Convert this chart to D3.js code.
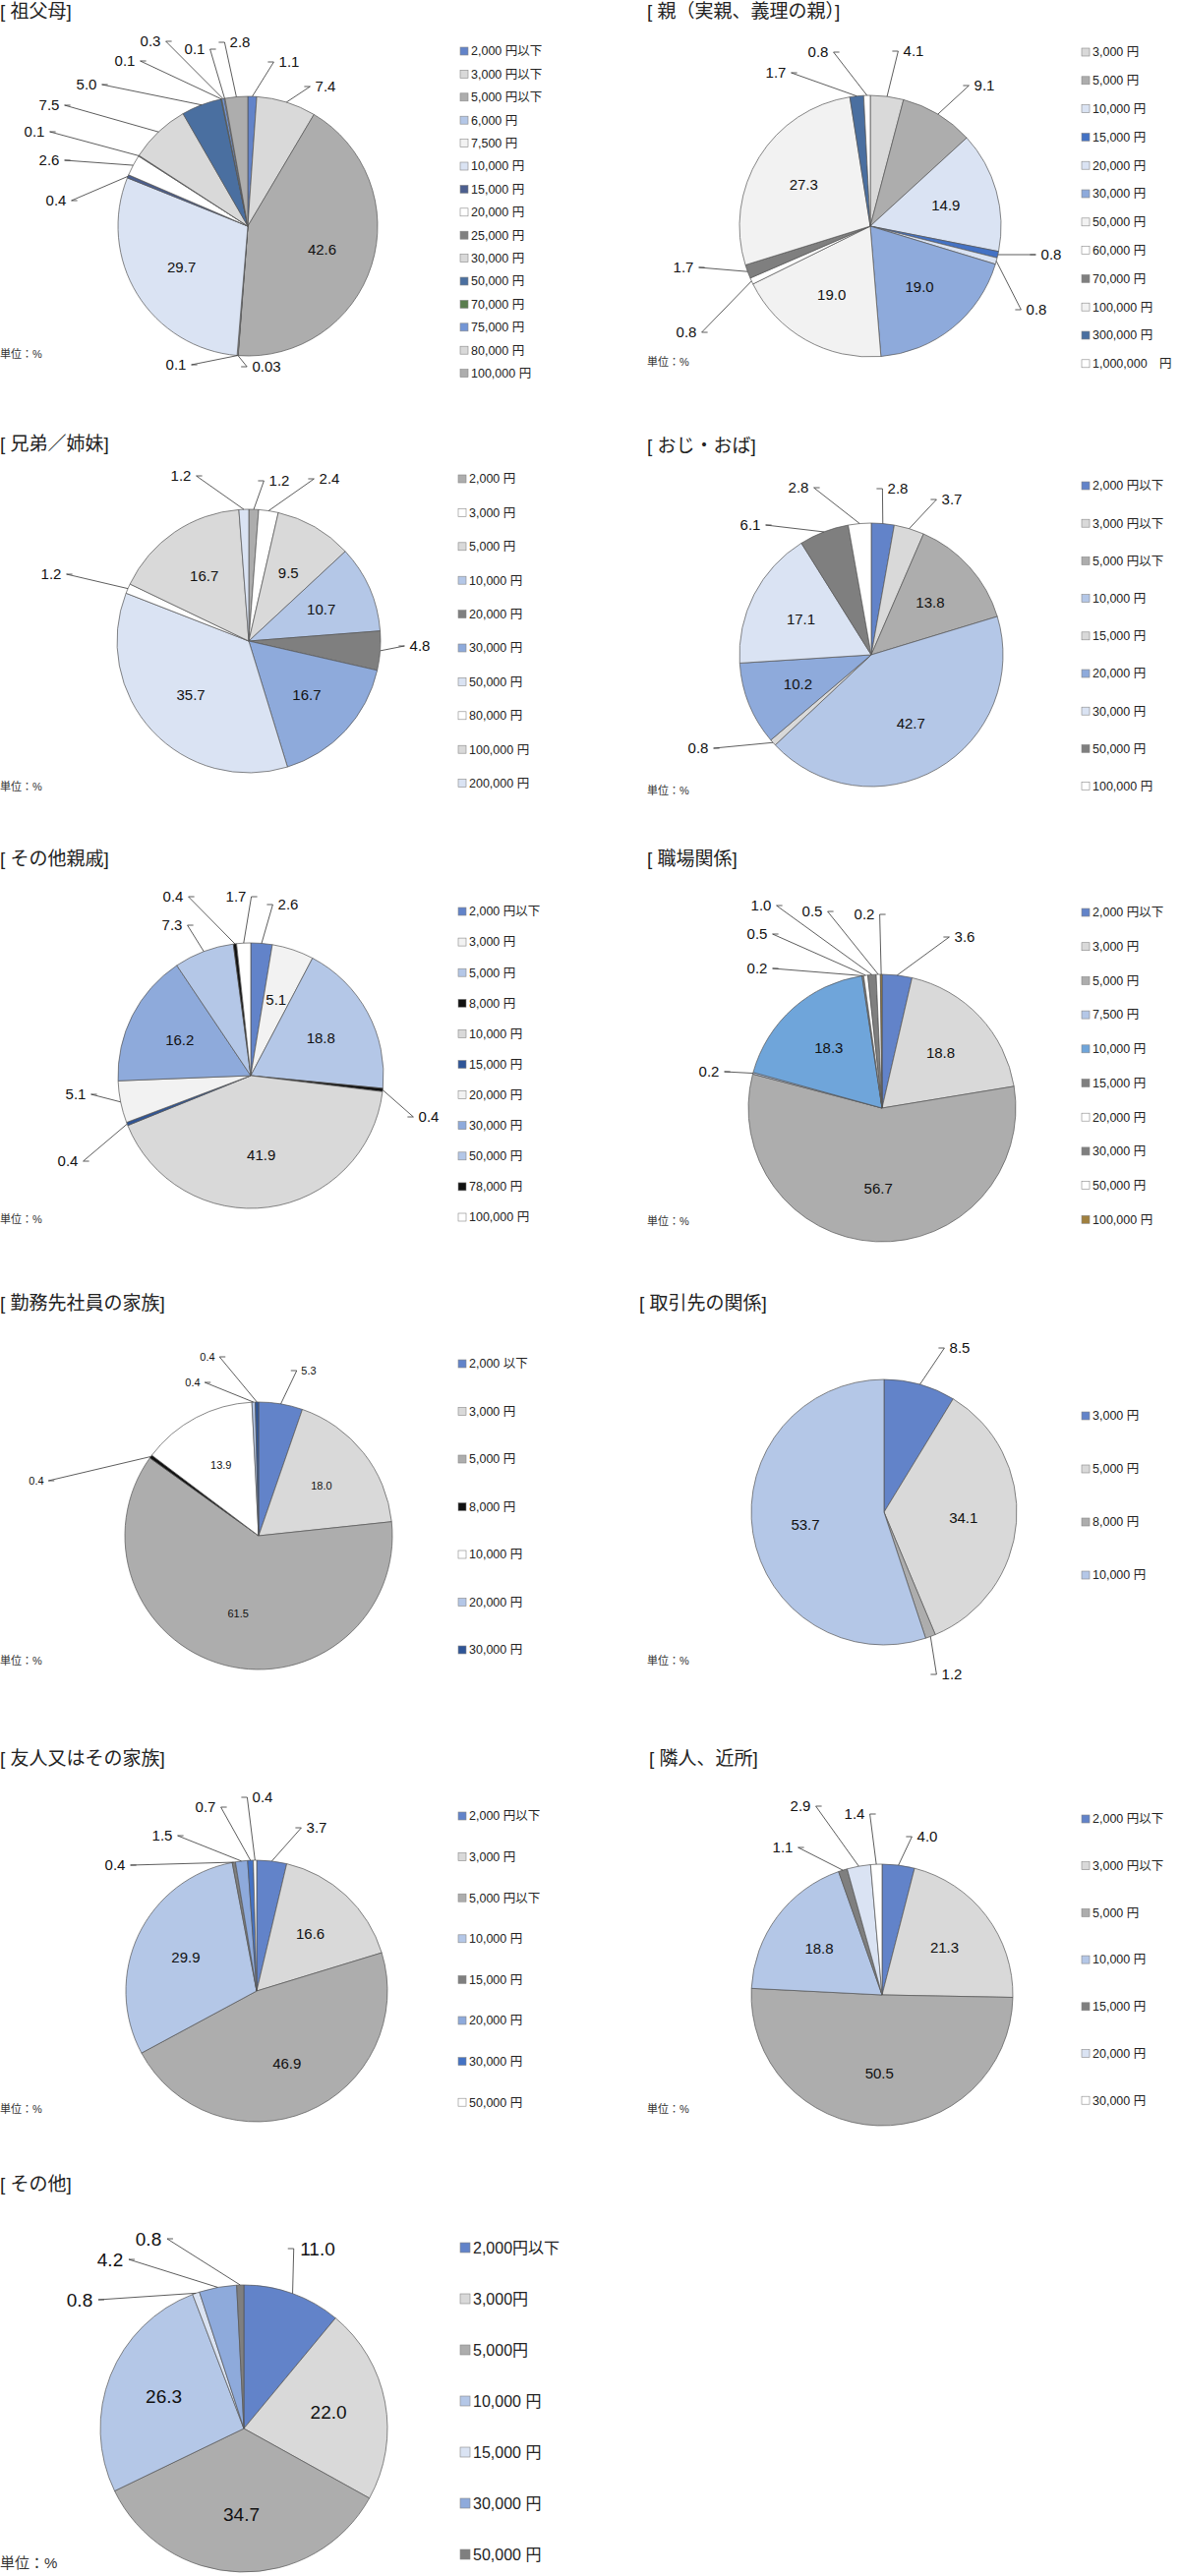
<!DOCTYPE html>
<html><head><meta charset="utf-8">
<script src="https://cdn.jsdelivr.net/npm/d3@7"></script>
<style>
body{margin:0;background:#fff;font-family:"Liberation Sans","Noto Sans CJK JP",sans-serif;}
</style></head>
<body><svg id="chart" width="1201" height="2620"></svg>
<script>
// colours used in the charts
var C = {
  blue:"#6283c9", lgray:"#d9d9d9", mgray:"#adadad", lblue:"#b4c7e7", vlight:"#f2f2f2",
  pale:"#dae3f3", navy:"#4c5f8f", white:"#ffffff", dgray:"#7f7f7f", steel:"#4a6fa0",
  green:"#5a7d4e", mblue:"#8eaadb", sky:"#6fa5da", black:"#111111", dblue:"#2f5597",
  brown:"#a0803f", blue2:"#4472c4"
}

// ---- data ----
var cat1 = ["2,000 円以下","3,000 円以下","5,000 円以下","6,000 円","7,500 円","10,000 円","15,000 円","20,000 円","25,000 円","30,000 円","50,000 円","70,000 円","75,000 円","80,000 円","100,000 円"]
var val1 = [1.1,7.4,42.6,0.03,0.1,29.7,0.4,2.6,0.1,7.5,5.0,0.1,0.3,0.1,2.8]
var col1 = [C.blue,C.lgray,C.mgray,C.lblue,C.vlight,C.pale,C.navy,C.white,C.dgray,C.lgray,C.steel,C.green,"#7396d6",C.lgray,C.mgray]

var cat2 = ["3,000 円","5,000 円","10,000 円","15,000 円","20,000 円","30,000 円","50,000 円","60,000 円","70,000 円","100,000 円","300,000 円","1,000,000　円"]
var val2 = [4.1,9.1,14.9,0.8,0.8,19.0,19.0,0.8,1.7,27.3,1.7,0.8]
var col2 = [C.lgray,C.mgray,C.pale,C.blue2,C.pale,C.mblue,C.vlight,C.white,C.dgray,C.vlight,C.steel,C.white]

var cat3 = ["2,000 円","3,000 円","5,000 円","10,000 円","20,000 円","30,000 円","50,000 円","80,000 円","100,000 円","200,000 円"]
var val3 = [1.2,2.4,9.5,10.7,4.8,16.7,35.7,1.2,16.7,1.2]
var col3 = [C.mgray,C.white,C.lgray,C.lblue,C.dgray,C.mblue,C.pale,C.white,C.lgray,C.pale]

var cat4 = ["2,000 円以下","3,000 円以下","5,000 円以下","10,000 円","15,000 円","20,000 円","30,000 円","50,000 円","100,000 円"]
var val4 = [2.8,3.7,13.8,42.7,0.8,10.2,17.1,6.1,2.8]
var col4 = [C.blue,C.lgray,C.mgray,C.lblue,C.lgray,C.mblue,C.pale,C.dgray,C.white]

var cat5 = ["2,000 円以下","3,000 円","5,000 円","8,000 円","10,000 円","15,000 円","20,000 円","30,000 円","50,000 円","78,000 円","100,000 円"]
var val5 = [2.6,5.1,18.8,0.4,41.9,0.4,5.1,16.2,7.3,0.4,1.7]
var col5 = [C.blue,C.vlight,C.lblue,C.black,C.lgray,C.dblue,C.vlight,C.mblue,C.lblue,C.black,C.white]

var cat6 = ["2,000 円以下","3,000 円","5,000 円","7,500 円","10,000 円","15,000 円","20,000 円","30,000 円","50,000 円","100,000 円"]
var val6 = [3.6,18.8,56.7,0.2,18.3,0.2,0.5,1.0,0.5,0.2]
var col6 = [C.blue,C.lgray,C.mgray,C.lblue,C.sky,C.dgray,C.white,C.dgray,C.white,C.brown]

var cat7 = ["2,000 以下","3,000 円","5,000 円","8,000 円","10,000 円","20,000 円","30,000 円"]
var val7 = [5.3,18.0,61.5,0.4,13.9,0.4,0.4]
var col7 = [C.blue,C.lgray,C.mgray,C.black,C.white,C.lblue,C.dblue]

var cat8 = ["3,000 円","5,000 円","8,000 円","10,000 円"]
var val8 = [8.5,34.1,1.2,53.7]
var col8 = [C.blue,C.lgray,C.mgray,C.lblue]

var cat9 = ["2,000 円以下","3,000 円","5,000 円以下","10,000 円","15,000 円","20,000 円","30,000 円","50,000 円"]
var val9 = [3.7,16.6,46.9,29.9,0.4,1.5,0.7,0.4]
var col9 = [C.blue,C.lgray,C.mgray,C.lblue,C.dgray,C.mblue,C.blue2,C.white]

var cat10 = ["2,000 円以下","3,000 円以下","5,000 円","10,000 円","15,000 円","20,000 円","30,000 円"]
var val10 = [4.0,21.3,50.5,18.8,1.1,2.9,1.4]
var col10 = [C.blue,C.lgray,C.mgray,C.lblue,C.dgray,C.pale,C.white]

var cat11 = ["2,000円以下","3,000円","5,000円","10,000 円","15,000 円","30,000 円","50,000 円"]
var val11 = [11.0,22.0,34.7,26.3,0.8,4.2,0.8]
var col11 = [C.blue,C.lgray,C.mgray,C.lblue,C.pale,C.mblue,C.dgray]

// ---- layout (outside label spots relative to pie centre; null = inside) ----
var panels = [
  {title:"[ 祖父母]", tx:0, ty:18, cx:252, cy:230, r:132, lx:468, ly:52, lstep:23.4, cat:cat1, val:val1, col:col1, uy:364, ux:0,
   out:[[42,-167],[79,-142],null,[19,143],[-73,141],null,[-195,-26],[-202,-67],[-217,-96],[-202,-123],[-164,-144],[-125,-168],[-99,-188],[-54,-180],[-8,-187]]},
  {title:"[ 親（実親、義理の親）]", tx:658, ty:18, cx:885, cy:230, r:133, lx:1100, ly:53, lstep:28.8, cat:cat2, val:val2, col:col2, uy:372, ux:658,
   out:[[44,-178],[116,-143],null,[184,29],[169,85],null,null,[-187,108],[-190,42],null,[-96,-156],[-53,-177]]},
  {title:"[ 兄弟／姉妹]", tx:0, ty:458, cx:253, cy:652, r:134, lx:466, ly:487, lstep:34.4, cat:cat3, val:val3, col:col3, uy:804, ux:0,
   out:[[31,-163],[82,-165],null,null,[174,5],null,null,[-201,-68],null,[-69,-168]]},
  {title:"[ おじ・おば]", tx:658, ty:460, cx:886, cy:666, r:134, lx:1100, ly:494, lstep:38.2, cat:cat4, val:val4, col:col4, uy:808, ux:658,
   out:[[27,-169],[82,-158],null,null,[-176,95],null,null,[-123,-132],[-74,-170]]},
  {title:"[ その他親戚]", tx:0, ty:880, cx:255, cy:1094, r:135, lx:466, ly:927, lstep:31.1, cat:cat5, val:val5, col:col5, uy:1244, ux:0,
   out:[[38,-174],null,null,[181,42],null,[-186,87],[-178,19],null,[-80,-153],[-79,-182],[-15,-182]]},
  {title:"[ 職場関係]", tx:658, ty:880, cx:897, cy:1127, r:136, lx:1100, ly:928, lstep:34.7, cat:cat6, val:val6, col:col6, uy:1246, ux:658,
   out:[[84,-174],null,null,[-176,-37],null,[-127,-142],[-127,-177],[-123,-206],[-71,-200],[-18,-197]]},
  {title:"[ 勤務先社員の家族]", tx:0, ty:1332, cx:263, cy:1562, r:136, lx:466, ly:1387, lstep:48.5, cat:cat7, val:val7, col:col7, uy:1693, ux:0, small:true,
   out:[[51,-168],null,null,[-226,-56],null,[-67,-156],[-52,-182]]},
  {title:"[ 取引先の関係]", tx:650, ty:1332, cx:899, cy:1538, r:135, lx:1100, ly:1440, lstep:54, cat:cat8, val:val8, col:col8, uy:1693, ux:658,
   out:[[77,-167],null,[69,165],null]},
  {title:"[ 友人又はその家族]", tx:0, ty:1795, cx:261, cy:2025, r:133, lx:466, ly:1847, lstep:41.6, cat:cat9, val:val9, col:col9, uy:2149, ux:0,
   out:[[61,-166],null,null,null,[-144,-128],[-96,-158],[-52,-187],[6,-197]]},
  {title:"[ 隣人、近所]", tx:660, ty:1795, cx:897, cy:2029, r:133, lx:1100, ly:1850, lstep:47.7, cat:cat10, val:val10, col:col10, uy:2149, ux:658,
   out:[[46,-161],null,null,null,[-101,-150],[-83,-192],[-28,-184]]},
  {title:"[ その他]", tx:0, ty:2228, cx:248, cy:2470, r:146, lx:468, ly:2286, lstep:52, cat:cat11, val:val11, col:col11, uy:2612, ux:0, big:true,
   out:[[75,-183],null,null,null,[-167,-131],[-136,-172],[-97,-193]]}
]

var svg = d3.select("#chart")
var pie = d3.pie().sort(null).value(function(d){ return d })

panels.forEach(function(p) {
  var valFont = p.small ? 11 : (p.big ? 19 : 15)
  var legFont = p.big ? 16 : 12.5

  svg.append("text").attr("x", p.tx).attr("y", p.ty)
    .attr("font-size", 19).attr("fill", "#222").text(p.title)

  var g = svg.append("g").attr("transform", "translate(" + p.cx + "," + p.cy + ")")
  var arc = d3.arc().innerRadius(0).outerRadius(p.r)
  var arcs = pie(p.val)

  g.selectAll("path").data(arcs).enter().append("path")
    .attr("d", arc)
    .attr("fill", function(d, i){ return p.col[i] })
    .attr("stroke", "#555").attr("stroke-width", 0.7)

  arcs.forEach(function(d, i) {
    var txt = d.data < 0.1 ? d.data.toFixed(2) : d.data.toFixed(1)
    var o = p.out[i]
    if (!o) {
      var c = d3.arc().innerRadius(p.r * 0.6).outerRadius(p.r * 0.6).centroid(d)
      g.append("text").attr("x", c[0]).attr("y", c[1]).attr("dy", "0.35em")
        .attr("text-anchor", "middle").attr("font-size", valFont).attr("fill", "#111").text(txt)
      return
    }
    var a = (d.startAngle + d.endAngle) / 2
    var ex = Math.sin(a) * p.r, ey = -Math.cos(a) * p.r
    var w = txt.length * valFont * 0.28 + 3
    var side = o[0] < ex ? 1 : -1
    var kx = o[0] + side * w
    g.append("polyline")
      .attr("points", [[ex, ey], [kx, o[1]], [kx + side * 6, o[1]]].map(function(q){ return q.join(",") }).join(" "))
      .attr("fill", "none").attr("stroke", "#333").attr("stroke-width", 0.8)
    g.append("text").attr("x", o[0]).attr("y", o[1]).attr("dy", "0.35em")
      .attr("text-anchor", "middle").attr("font-size", valFont).attr("fill", "#111").text(txt)
  })

  var leg = svg.append("g")
  p.cat.forEach(function(c, i) {
    var y = p.ly + i * p.lstep
    var s = p.big ? 10 : 8
    leg.append("rect").attr("x", p.lx).attr("y", y - s / 2).attr("width", s).attr("height", s)
      .attr("fill", p.col[i]).attr("stroke", "#888").attr("stroke-width", 0.6)
    leg.append("text").attr("x", p.lx + s + 3).attr("y", y).attr("dy", "0.35em")
      .attr("font-size", legFont).attr("fill", "#222").text(c)
  })

  svg.append("text").attr("x", p.ux).attr("y", p.uy).attr("font-size", p.big ? 15 : 11)
    .attr("fill", "#333").text("単位：%")
})
</script>
</body></html>
